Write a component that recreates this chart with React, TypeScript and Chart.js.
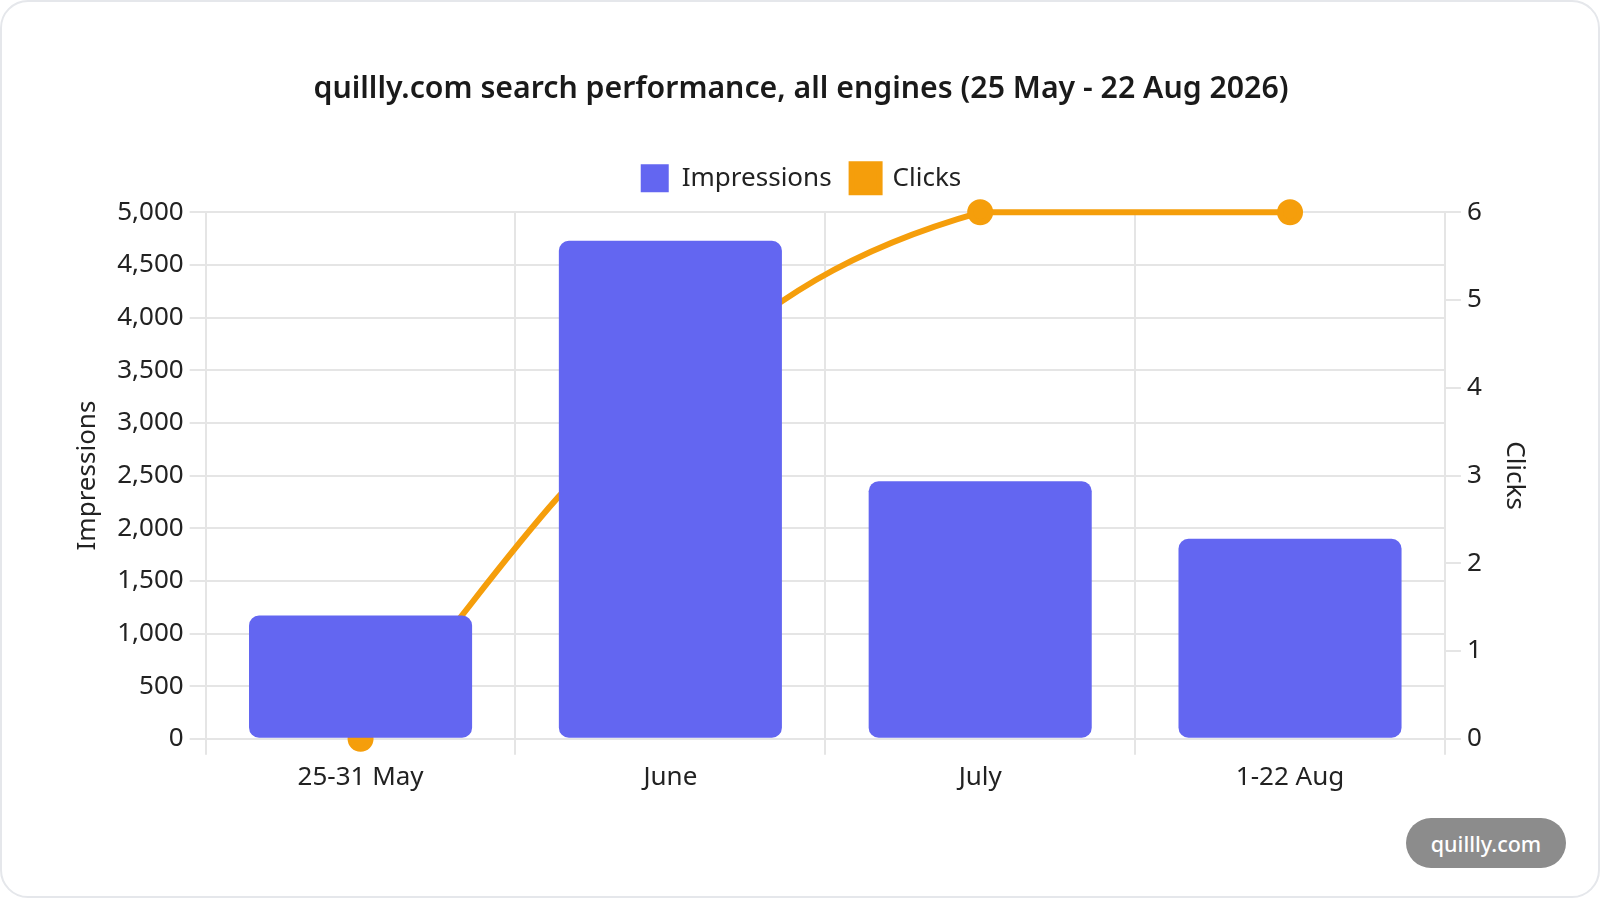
import React, { useEffect, useRef } from "react";
import { Chart, registerables } from "chart.js";

Chart.register(...registerables);

const categories = ["25-31 May", "June", "July", "1-22 Aug"];
const impressions = [1170, 4730, 2445, 1900];
const clicks = [0, 4, 6, 6];
const FONT = '"Noto Sans", sans-serif';

const legendGap = {
  id: "legendGap",
  beforeLayout(chart: any) {
    const legend = chart.legend;
    if (legend && !legend.__gap) {
      const fit = legend.fit.bind(legend);
      legend.fit = () => {
        fit();
        legend.height += 10;
      };
      legend.__gap = true;
    }
  },
};

export default function App() {
  const ref = useRef<HTMLCanvasElement>(null);
  useEffect(() => {
    document.body.style.margin = "0";
    const chart = new Chart(ref.current!, {
      plugins: [legendGap],
      data: {
        labels: categories,
        datasets: [
          { type: "bar", label: "Impressions", data: impressions, backgroundColor: "#6366f1", borderRadius: 10, borderSkipped: false, yAxisID: "y", order: 1 },
          { type: "line", label: "Clicks", data: clicks, borderColor: "#f59e0b", backgroundColor: "#f59e0b", borderWidth: 6, pointRadius: 10, pointHoverRadius: 10, pointBackgroundColor: "#f59e0b", tension: 0.4, clip: false, yAxisID: "y1", order: 2 },
        ],
      } as any,
      options: {
        responsive: false,
        animation: false,
        layout: { padding: { left: 68, right: 63, top: 71, bottom: 98 } },
        plugins: {
          title: { display: true, text: "quillly.com search performance, all engines (25 May - 22 Aug 2026)", color: "#1a1a1a", font: { family: FONT, size: 30.25, weight: 600 }, padding: { top: 0, bottom: 37 } },
          legend: { labels: { boxWidth: 28, boxHeight: 28, color: "#222", font: { family: FONT, size: 26 }, padding: 20 } },
          tooltip: { enabled: false },
        },
        scales: {
          x: { grid: { color: "#e5e5e5", lineWidth: 2, tickLength: 16 }, border: { color: "#e5e5e5", width: 2 }, ticks: { color: "#222", font: { family: FONT, size: 26 }, padding: 7 } },
          y: { position: "left", min: 0, max: 5000, grid: { color: "#e5e5e5", lineWidth: 2, tickLength: 16 }, border: { color: "#e5e5e5", width: 2 }, ticks: { stepSize: 500, color: "#222", font: { family: FONT, size: 26 }, padding: 6 }, title: { display: true, text: "Impressions", color: "#222", font: { family: FONT, size: 26 }, padding: { top: 4, bottom: 8 } } },
          y1: { position: "right", min: 0, max: 6, grid: { color: "#e5e5e5", lineWidth: 2, tickLength: 16, drawOnChartArea: false }, border: { color: "#e5e5e5", width: 2 }, ticks: { stepSize: 1, color: "#222", font: { family: FONT, size: 26 }, padding: 6 }, title: { display: true, text: "Clicks", color: "#222", font: { family: FONT, size: 26 }, padding: { top: 4, bottom: 11 } } },
        },
      },
    });
    return () => chart.destroy();
  }, []);
  return (
    <div style={{ position: "relative", width: 1600, height: 898, boxSizing: "border-box", border: "2px solid #e5e7eb", borderRadius: 28, background: "#fff", overflow: "hidden" }}>
      <canvas ref={ref} width={1597} height={898} style={{ position: "absolute", left: -2, top: -2, display: "block" }} />
      <div style={{ position: "absolute", left: 1404, top: 816, width: 160, height: 50, borderRadius: 25, background: "#8c8c8c", color: "#fff", font: `500 21.5px ${FONT}`, display: "flex", alignItems: "center", justifyContent: "center" }}>quillly.com</div>
    </div>
  );
}
